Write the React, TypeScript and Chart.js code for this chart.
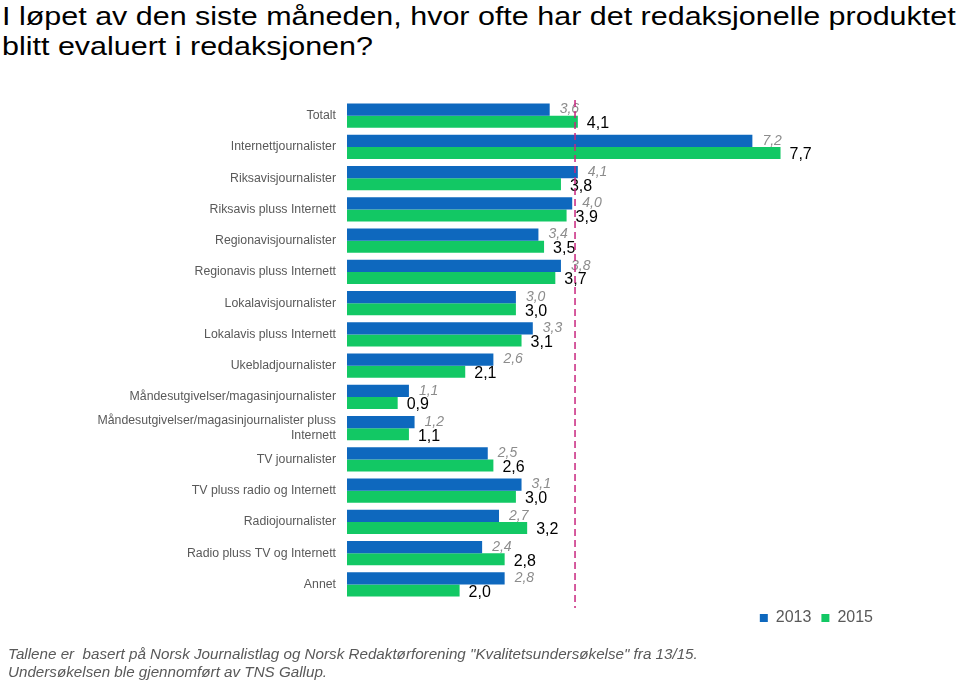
import React, { useEffect, useRef } from "react";
import { Chart, registerables } from "chart.js";

Chart.register(...registerables);

const categories: (string | string[])[] = [
  "Totalt",
  "Internettjournalister",
  "Riksavisjournalister",
  "Riksavis pluss Internett",
  "Regionavisjournalister",
  "Regionavis pluss Internett",
  "Lokalavisjournalister",
  "Lokalavis pluss Internett",
  "Ukebladjournalister",
  "Måndesutgivelser/magasinjournalister",
  ["Måndesutgivelser/magasinjournalister pluss", "Internett"],
  "TV journalister",
  "TV pluss radio og Internett",
  "Radiojournalister",
  "Radio pluss TV og Internett",
  "Annet",
];

const values2013 = [3.6, 7.2, 4.1, 4.0, 3.4, 3.8, 3.0, 3.3, 2.6, 1.1, 1.2, 2.5, 3.1, 2.7, 2.4, 2.8];
const values2015 = [4.1, 7.7, 3.8, 3.9, 3.5, 3.7, 3.0, 3.1, 2.1, 0.9, 1.1, 2.6, 3.0, 3.2, 2.8, 2.0];
const seriesNames = ["2013", "2015"];
const referenceValue = 4.05;

const titleLines = [
  "I løpet av den siste måneden, hvor ofte har det redaksjonelle produktet",
  "blitt evaluert i redaksjonen?",
];

const BLUE = "#0E68BE";
const GREEN = "#12C864";
const FONT = "'Liberation Sans', Arial, Helvetica, sans-serif";

const fmt = (v: number) => v.toFixed(1).replace(".", ",");

const labelPlugin = {
  id: "valueLabels",
  afterDatasetsDraw(chart: any) {
    const ctx = chart.ctx;
    ctx.save();
    ctx.textBaseline = "middle";
    ctx.textAlign = "left";
    chart.data.datasets.forEach((ds: any, di: number) => {
      const meta = chart.getDatasetMeta(di);
      meta.data.forEach((bar: any, i: number) => {
        const v = ds.data[i];
        if (di === 0) {
          ctx.font = `italic 14px ${FONT}`;
          ctx.fillStyle = "#8C8C8C";
          ctx.fillText(fmt(v), bar.x + 10, bar.y);
        } else {
          ctx.font = `16px ${FONT}`;
          ctx.fillStyle = "#000000";
          ctx.fillText(fmt(v), bar.x + 9, bar.y + 2);
        }
      });
    });
    ctx.restore();
  },
};

const refLinePlugin = {
  id: "refLine",
  afterDatasetsDraw(chart: any) {
    const ctx = chart.ctx;
    const x = chart.scales.x.getPixelForValue(referenceValue);
    const { top, bottom } = chart.chartArea;
    ctx.save();
    ctx.strokeStyle = "#C8267F";
    ctx.lineWidth = 1.5;
    ctx.setLineDash([7, 4]);
    ctx.beginPath();
    ctx.moveTo(x, top);
    ctx.lineTo(x, bottom + 8);
    ctx.stroke();
    ctx.restore();
  },
};

export default function App() {
  const canvasRef = useRef<HTMLCanvasElement | null>(null);

  useEffect(() => {
    if (!canvasRef.current) return;
    const chart = new Chart(canvasRef.current, {
      type: "bar",
      data: {
        labels: categories,
        datasets: [
          {
            label: seriesNames[0],
            data: values2013,
            backgroundColor: BLUE,
            categoryPercentage: 0.78,
            barPercentage: 1,
          },
          {
            label: seriesNames[1],
            data: values2015,
            backgroundColor: GREEN,
            categoryPercentage: 0.78,
            barPercentage: 1,
          },
        ],
      },
      options: {
        indexAxis: "y",
        responsive: false,
        animation: false,
        layout: { padding: { top: 100, right: 77, bottom: 44, left: 0 } },
        scales: {
          x: {
            display: false,
            min: 0,
            max: 9.52,
          },
          y: {
            grid: { display: false },
            border: { display: false },
            ticks: {
              color: "#595959",
              font: { family: FONT, size: 12.3 },
              padding: 3,
              autoSkip: false,
            },
            afterFit: (scale: any) => {
              scale.width = 347;
            },
          },
        },
        plugins: {
          legend: {
            position: "bottom",
            align: "end",
            labels: {
              boxWidth: 8,
              boxHeight: 8,
              padding: 10,
              color: "#595959",
              font: { family: FONT, size: 16 },
            },
          },
          tooltip: { enabled: false },
        },
      },
      plugins: [labelPlugin, refLinePlugin],
    });
    return () => chart.destroy();
  }, []);

  return (
    <div style={{ position: "fixed", left: 0, top: 0, width: 960, height: 680, background: "#fff", fontFamily: FONT }}>
      <div
        style={{
          position: "absolute",
          left: 2,
          top: 1,
          fontSize: 26,
          lineHeight: "30px",
          color: "#000",
          whiteSpace: "nowrap",
          transform: "scaleX(1.172)",
          transformOrigin: "0 0",
        }}
      >
        {titleLines.map((t, i) => (
          <div key={i}>{t}</div>
        ))}
      </div>
      <canvas ref={canvasRef} width={960} height={680} style={{ position: "absolute", left: 0, top: 0 }} />
      <div
        style={{
          position: "absolute",
          left: 8,
          top: 645,
          fontSize: 15.2,
          lineHeight: "18px",
          fontStyle: "italic",
          color: "#595959",
          whiteSpace: "nowrap",
        }}
      >
        <div>Tallene er&nbsp; basert på Norsk Journalistlag og Norsk Redaktørforening "Kvalitetsundersøkelse" fra 13/15.</div>
        <div>Undersøkelsen ble gjennomført av TNS Gallup.</div>
      </div>
    </div>
  );
}
